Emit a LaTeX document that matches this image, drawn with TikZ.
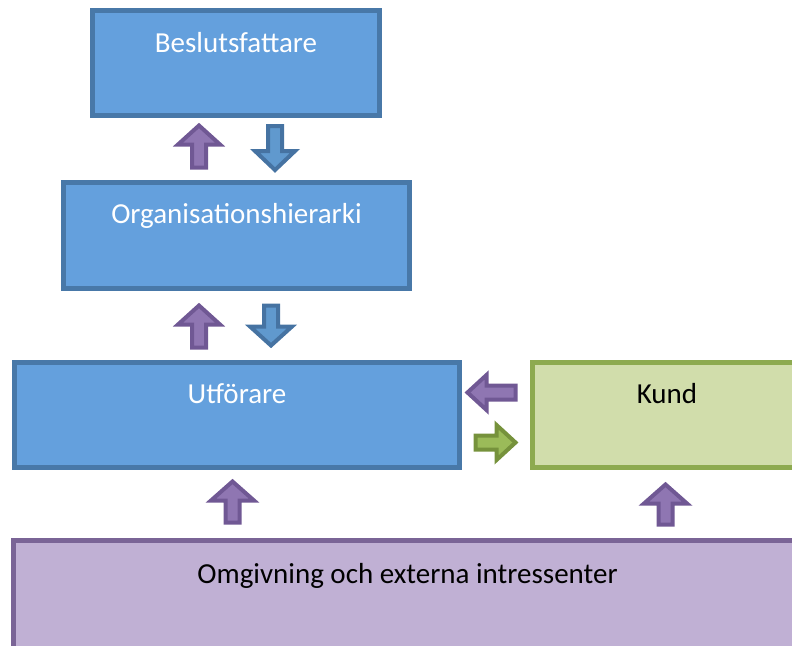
\documentclass[tikz,border=0pt]{standalone}
\usepackage{fontspec}
\setmainfont{Carlito}
\begin{document}
% colours of the boxes and the block arrows
\definecolor{bluefill}{RGB}{100,160,221}
\definecolor{blueline}{RGB}{72,120,168}
\definecolor{bluearrowfill}{RGB}{96,153,206}
\definecolor{bluearrowline}{RGB}{70,115,162}
\definecolor{purplefill}{RGB}{143,118,178}
\definecolor{purpleline}{RGB}{112,88,148}
\definecolor{greenfill}{RGB}{209,221,171}
\definecolor{greenline}{RGB}{141,170,79}
\definecolor{greenarrowfill}{RGB}{155,187,89}
\definecolor{greenarrowline}{RGB}{118,146,60}
\definecolor{lilacfill}{RGB}{192,176,212}
\definecolor{lilacline}{RGB}{122,100,150}
% block arrow: centre x, centre y, direction angle, outer length, outer width, style
\newcommand\blockarrow[6]{%
  \pgfmathsetmacro\baL{#4/2-2.5}%
  \pgfmathsetmacro\baH{#4/2-2.5-19}%
  \pgfmathsetmacro\baW{#5/2-3}%
  \draw[#6, shift={(#1,#2)}, rotate=#3]
    (-\baL,-7) -- (\baH,-7) -- (\baH,-\baW) -- (\baL,0)
    -- (\baH,\baW) -- (\baH,7) -- (-\baL,7) -- cycle;}
\begin{tikzpicture}[x=1pt, y=-1pt,
  box/.style={draw, line width=5pt, rectangle, inner sep=0pt},
  bluebox/.style={box, fill=bluefill, draw=blueline},
  greenbox/.style={box, fill=greenfill, draw=greenline},
  lilacbox/.style={box, fill=lilacfill, draw=lilacline},
  lbl/.style={anchor=base, font=\fontsize{29}{34}\selectfont, inner sep=0pt},
  upflow/.style={line width=4pt, line join=miter, fill=purplefill, draw=purpleline},
  downflow/.style={line width=4pt, line join=miter, fill=bluearrowfill, draw=bluearrowline},
  outflow/.style={line width=4pt, line join=miter, fill=greenarrowfill, draw=greenarrowline}]
\useasboundingbox (0,0) rectangle (792,645);
\clip (0,0) rectangle (792,645);

% boxes
\node[bluebox, minimum width=287pt, minimum height=105pt] (bes) at (236,63) {};
\node[bluebox, minimum width=346pt, minimum height=106pt] (org) at (236.5,235.5) {};
\node[bluebox, minimum width=445pt, minimum height=105pt] (utf) at (237,415) {};
\node[greenbox, minimum width=269pt, minimum height=105pt] (kund) at (667,415) {};
\node[lilacbox, minimum width=788pt, minimum height=120pt] (omg) at (407.5,600.5) {};

% box titles
\node[lbl, text=white] (besT) at (236,52) {Beslutsfattare};
\node[lbl, text=white] (orgT) at (236.5,223) {Organisationshierarki};
\node[lbl, text=white] (utfT) at (237,403) {Utförare};
\node[lbl, text=black] (kundT) at (667,403) {Kund};
\node[lbl, text=black] (omgT) at (407.5,583) {Omgivning och externa intressenter};

% flows between the levels
\blockarrow{199}{146.5}{90}{47}{48}{upflow}
\blockarrow{275}{148}{-90}{49}{46}{downflow}
\blockarrow{199}{326.5}{90}{47}{48}{upflow}
\blockarrow{271}{325.5}{-90}{45}{48}{downflow}
\blockarrow{491.5}{392.5}{180}{53}{41}{upflow}
\blockarrow{495.5}{442.5}{0}{45}{41}{outflow}
\blockarrow{232.5}{502}{90}{46}{49}{upflow}
\blockarrow{665.5}{504.5}{90}{45}{49}{upflow}
\end{tikzpicture}
\end{document}
